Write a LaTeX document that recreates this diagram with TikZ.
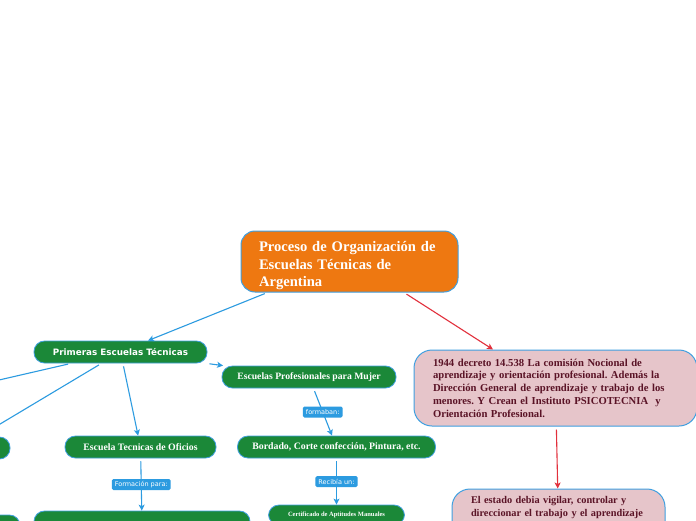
\documentclass[tikz,border=0pt]{standalone}
\usepackage{fontspec}
\setmainfont{Liberation Serif}
\newfontfamily\sansfnt{DejaVu Sans}
\usetikzlibrary{arrows.meta,calc}
\frenchspacing
\definecolor{cblue}{HTML}{2C9BE0}
\definecolor{cred}{HTML}{E2303C}
\definecolor{cgreen}{HTML}{1B8838}
\definecolor{corange}{HTML}{EE7811}
\definecolor{cpink}{HTML}{E6C5CA}
\definecolor{cmaroon}{HTML}{5A1326}
\definecolor{cborder}{HTML}{3F9FE0}
\tikzset{
  mainbox/.style={rounded corners=14pt, fill=corange, draw=cborder, line width=1pt,
    minimum width=217pt, minimum height=61pt, text width=181pt, align=left,
    inner sep=0pt, text=white, font=\fontsize{14.6}{17.5}\selectfont\bfseries},
  greenbox/.style={rounded corners=10.5pt, fill=cgreen, draw=cborder, line width=0.8pt,
    minimum height=22pt, inner sep=0pt, text=white, align=center,
    font=\fontsize{9.8}{12}\selectfont\bfseries},
  pinkbox/.style={rounded corners=18pt, fill=cpink, draw=cborder, line width=1pt,
    inner sep=0pt, align=left, text=cmaroon,
    font=\fontsize{10.65}{12.75}\selectfont\bfseries},
  lbl/.style={fill=cblue, text=white, rounded corners=1.5pt, inner xsep=3pt,
    inner ysep=0pt, minimum height=11pt, font=\sansfnt\fontsize{6.5}{7}\selectfont},
  barrow/.style={draw=cblue, line width=1.1pt, shorten <=3pt,
    -{Stealth[length=6pt,width=6pt,inset=1.5pt]}},
  rarrow/.style={draw=cred, line width=1.1pt, shorten <=3pt,
    -{Stealth[length=6pt,width=6pt,inset=1.5pt]}},
}
\begin{document}
\begin{tikzpicture}[x=1pt,y=-1pt]
\useasboundingbox[fill=white] (0,0) rectangle (696,520);
% nodes
\node[mainbox] (main) at (349.5,261.5) {\rule{0pt}{19pt}Proceso de Organización de\\Escuelas Técnicas de\\Argentina};
\node[greenbox, minimum width=173pt, font=\sansfnt\fontsize{8.8}{10}\selectfont\bfseries] (prim) at (120.5,352) {Primeras Escuelas Técnicas};
\node[greenbox, minimum width=174pt, font=\fontsize{9.7}{12}\selectfont\bfseries] (mujer) at (309,377) {Escuelas Profesionales para Mujer};
\node[greenbox, minimum width=151pt] (etec) at (140.5,447) {Escuela Tecnicas de Oficios};
\node[greenbox, minimum width=198pt] (bord) at (336.5,447) {Bordado, Corte confección, Pintura, etc.};
\node[greenbox, minimum width=100pt] (offL) at (-40,448) {};
\node[greenbox, minimum width=136pt, minimum height=20pt, font=\fontsize{6.5}{8}\selectfont\bfseries] (cert) at (336.5,515) {Certificado de Aptitudes Manuales};
\node[greenbox, minimum width=216pt] (form) at (142,522) {};
\node[greenbox, minimum width=120pt] (offB) at (-40,526) {};
\coordinate (offA) at (-40,389);
\node[pinkbox, minimum width=283pt, minimum height=76pt, text width=245pt] (p1) at (555.5,388)
  {1944 decreto 14.538 La comisión Nocional de\\aprendizaje y orientación profesional. Además la\\Dirección General de aprendizaje y trabajo de los\\menores. Y Crean el Instituto PSICOTECNIA~ y\\Orientación Profesional.};
\node[pinkbox, minimum width=213pt, minimum height=70pt, text width=175pt, font=\fontsize{10.3}{13.5}\selectfont\bfseries] (p2) at (558.5,524)
  {El estado debia vigilar, controlar y\\direccionar el trabajo y el aprendizaje\\[22pt]\mbox{}};
% connectors
\draw[barrow] ($(main.south west)+(27,0)$) -- ($(prim.north)+(27.5,0)$);
\draw[rarrow] ($(main.south)+(54.5,0)$) -- ($(p1.north)+(-62.5,0)$);
\draw[barrow] (prim) -- (mujer);
\draw[barrow] (prim) -- (etec);
\draw[barrow] (prim) -- (offA);
\draw[barrow] (prim) -- (offL);
\draw[barrow] (mujer) -- node[lbl] (l1) {formaban:} (bord);
\draw[barrow] (bord) -- node[lbl] (l2) {Recibía un:} (cert);
\draw[barrow] (etec) -- node[lbl] (l3) {Formación para:} (form);
\draw[rarrow] (p1) -- (p2);
\end{tikzpicture}
\end{document}
